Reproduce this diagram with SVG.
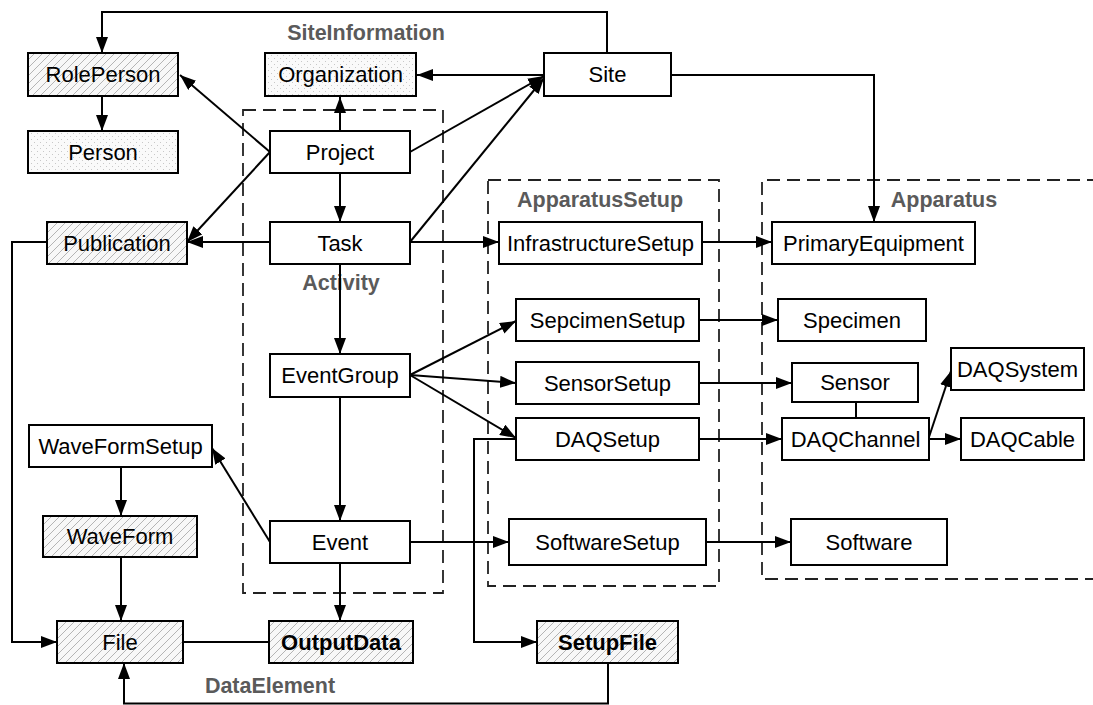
<svg xmlns="http://www.w3.org/2000/svg" width="1093" height="705" viewBox="0 0 1093 705">
<style>
.n{stroke:#000;stroke-width:2;fill:#fff}
.h{fill:url(#hatch)}
.d{fill:url(#dots)}
.t{font-family:"Liberation Sans",Arial,sans-serif;font-size:22px;fill:#000;text-anchor:middle}
.b{font-weight:bold}
.g{font-family:"Liberation Sans",Arial,sans-serif;font-size:21.5px;font-weight:bold;fill:#5a5a5a;text-anchor:middle}
.grp{fill:none;stroke:#222;stroke-width:1.8;stroke-dasharray:13,7}
.c{fill:none;stroke:#000;stroke-width:2}
.a{marker-end:url(#arr)}
</style>
<defs>
<pattern id="hatch" patternUnits="userSpaceOnUse" width="8" height="8">
<rect width="8" height="8" fill="#f7f7f7"/>
<path d="M-2,2 L2,-2 M0,8 L8,0 M6,10 L10,6" stroke="#b4b4b4" stroke-width="1"/>
</pattern>
<pattern id="dots" patternUnits="userSpaceOnUse" width="6" height="6">
<rect width="6" height="6" fill="#fafafa"/>
<rect x="1" y="1" width="1" height="1" fill="#c8c8c8"/>
<rect x="4" y="4" width="1" height="1" fill="#c8c8c8"/>
</pattern>
<marker id="arr" markerUnits="userSpaceOnUse" markerWidth="16" markerHeight="12" refX="16" refY="6" orient="auto">
<path d="M0,0 L16,6 L0,12 z" fill="#000"/>
</marker>
</defs>
<rect width="1093" height="705" fill="#fff"/>

<g id="groups">
<rect class="grp" x="243" y="110" width="200" height="483"/>
<rect class="grp" x="488" y="180" width="231" height="406"/>
<path class="grp" d="M1100,180 L762,180 L762,579 L1100,579"/>
<text class="g" x="366" y="40">SiteInformation</text>
<text class="g" x="341" y="290">Activity</text>
<text class="g" x="600" y="207">ApparatusSetup</text>
<text class="g" x="944" y="207">Apparatus</text>
<text class="g" x="270" y="693">DataElement</text>
</g>

<g id="connectors">
<path class="c a" d="M607,53 L607,12 L102,12 L102,53"/>
<path class="c a" d="M102,96 L102,131"/>
<path class="c a" d="M544,75 L417,75"/>
<path class="c a" d="M671,75 L874,75 L874,222"/>
<path class="c a" d="M340,131 L340,97"/>
<path class="c a" d="M270,152 L180,75"/>
<path class="c a" d="M270,152 L187,242"/>
<path class="c a" d="M410,152 L544,76"/>
<path class="c a" d="M410,242 L544,78"/>
<path class="c a" d="M340,173 L340,222"/>
<path class="c a" d="M270,242 L187,242"/>
<path class="c a" d="M410,242 L499,242"/>
<path class="c a" d="M702,242 L772,242"/>
<path class="c a" d="M340,264 L340,354"/>
<path class="c a" d="M410,375 L516,321"/>
<path class="c a" d="M410,375 L516,383"/>
<path class="c a" d="M410,375 L516,438"/>
<path class="c a" d="M699,320 L778,320"/>
<path class="c a" d="M699,383 L792,383"/>
<path class="c a" d="M699,439 L782,439"/>
<path class="c" d="M856,402 L856,418"/>
<path class="c a" d="M929,437 L951,371"/>
<path class="c a" d="M929,439 L961,439"/>
<path class="c a" d="M340,397 L340,521"/>
<path class="c a" d="M270,542 L212,448"/>
<path class="c a" d="M410,542 L509,542"/>
<path class="c a" d="M706,542 L791,542"/>
<path class="c a" d="M340,563 L340,621"/>
<path class="c a" d="M121,467 L121,516"/>
<path class="c a" d="M121,557 L121,621"/>
<path class="c" d="M183,642 L269,642"/>
<path class="c a" d="M47,242 L12,242 L12,642 L57,642"/>
<path class="c a" d="M516,439 L474,439 L474,642 L537,642"/>
<path class="c a" d="M608,663 L608,703.5 L124,703.5 L124,663"/>
</g>

<g id="RolePerson"><rect class="n h" x="28" y="53" width="150" height="43"/><text class="t" x="103" y="82">RolePerson</text></g>
<g id="Person"><rect class="n d" x="28" y="131" width="150" height="42"/><text class="t" x="103" y="159.5">Person</text></g>
<g id="Organization"><rect class="n d" x="265" y="53" width="151" height="43"/><text class="t" x="340.5" y="82">Organization</text></g>
<g id="Site"><rect class="n" x="544" y="53" width="127" height="43"/><text class="t" x="607.5" y="82">Site</text></g>
<g id="Project"><rect class="n" x="270" y="131" width="140" height="42"/><text class="t" x="340" y="159.5">Project</text></g>
<g id="Publication"><rect class="n h" x="47" y="222" width="140" height="42"/><text class="t" x="117" y="250.5">Publication</text></g>
<g id="Task"><rect class="n" x="270" y="222" width="140" height="42"/><text class="t" x="340" y="250.5">Task</text></g>
<g id="EventGroup"><rect class="n" x="270" y="354" width="140" height="43"/><text class="t" x="340" y="383">EventGroup</text></g>
<g id="Event"><rect class="n" x="270" y="521" width="140" height="42"/><text class="t" x="340" y="549.5">Event</text></g>
<g id="WaveFormSetup"><rect class="n" x="29" y="425" width="183" height="42"/><text class="t" x="120.5" y="453.5">WaveFormSetup</text></g>
<g id="WaveForm"><rect class="n h" x="43" y="516" width="154" height="41"/><text class="t" x="120" y="544">WaveForm</text></g>
<g id="File"><rect class="n h" x="57" y="621" width="126" height="42"/><text class="t" x="120" y="649.5">File</text></g>
<g id="OutputData"><rect class="n h" x="269" y="621" width="144" height="42"/><text class="t b" x="341" y="649.5">OutputData</text></g>
<g id="SetupFile"><rect class="n h" x="537" y="621" width="141" height="42"/><text class="t b" x="607.5" y="649.5">SetupFile</text></g>
<g id="InfrastructureSetup"><rect class="n" x="499" y="222" width="203" height="42"/><text class="t" x="600.5" y="250.5">InfrastructureSetup</text></g>
<g id="SepcimenSetup"><rect class="n" x="516" y="299" width="183" height="42"/><text class="t" x="607.5" y="327.5">SepcimenSetup</text></g>
<g id="SensorSetup"><rect class="n" x="516" y="362" width="183" height="42"/><text class="t" x="607.5" y="390.5">SensorSetup</text></g>
<g id="DAQSetup"><rect class="n" x="516" y="418" width="183" height="42"/><text class="t" x="607.5" y="446.5">DAQSetup</text></g>
<g id="SoftwareSetup"><rect class="n" x="509" y="519" width="197" height="46"/><text class="t" x="607.5" y="549.5">SoftwareSetup</text></g>
<g id="PrimaryEquipment"><rect class="n" x="772" y="222" width="203" height="42"/><text class="t" x="873.5" y="250.5">PrimaryEquipment</text></g>
<g id="Specimen"><rect class="n" x="778" y="299" width="148" height="42"/><text class="t" x="852" y="327.5">Specimen</text></g>
<g id="Sensor"><rect class="n" x="792" y="363" width="126" height="39"/><text class="t" x="855" y="390">Sensor</text></g>
<g id="DAQChannel"><rect class="n" x="782" y="418" width="147" height="42"/><text class="t" x="855.5" y="446.5">DAQChannel</text></g>
<g id="DAQSystem"><rect class="n" x="951" y="348" width="133" height="42"/><text class="t" x="1017.5" y="376.5">DAQSystem</text></g>
<g id="DAQCable"><rect class="n" x="961" y="418" width="123" height="42"/><text class="t" x="1022.5" y="446.5">DAQCable</text></g>
<g id="Software"><rect class="n" x="791" y="519" width="156" height="46"/><text class="t" x="869" y="549.5">Software</text></g>
</svg>
